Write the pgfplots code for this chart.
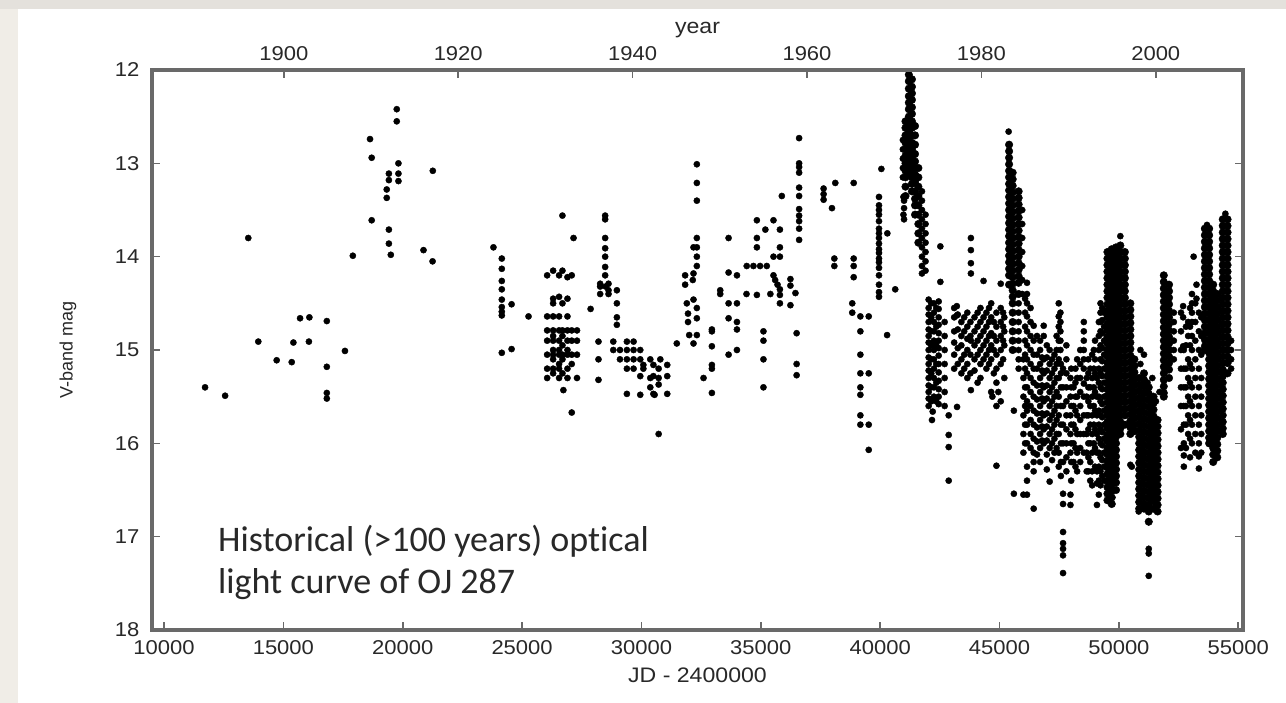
\documentclass[border=0pt]{standalone}
\usepackage{fontspec}
\usepackage{pgfplots}
\pgfplotsset{compat=1.18}
\setmainfont{Liberation Sans}
\newfontfamily\tickfont[FakeStretch=1.1]{Liberation Sans}
\newfontfamily\notefont[Ligatures=NoCommon]{Carlito}
\definecolor{bggray}{RGB}{228,225,220}
\definecolor{bgleft}{RGB}{240,237,231}
\definecolor{axgray}{RGB}{105,105,105}
\definecolor{txt}{RGB}{40,40,40}
\definecolor{notetxt}{RGB}{40,40,40}
\begin{document}
\begin{tikzpicture}
\fill[bggray] (-152pt,-73pt) rectangle (1134pt,630pt);
\fill[bgleft] (-152pt,-73pt) rectangle (-134pt,621pt);
\fill[white] (-134pt,-73pt) rectangle (1134pt,621pt);
\begin{axis}[
  at={(0pt,0pt)}, anchor=south west,
  scale only axis, width=1091pt, height=560pt,
  xmin=9497, xmax=55197, ymin=12, ymax=18, y dir=reverse,
  xtick={10000,15000,...,55000}, ytick={12,13,...,18},
  scaled x ticks=false,
  xtick pos=left, ytick pos=both,
  tick align=inside, major tick length=8pt,
  every tick/.style={axgray, line width=1.6pt},
  axis line style={axgray, line width=3.5pt},
  /pgf/number format/assume math mode=true,
  ticklabel style={font=\tickfont\fontsize{20}{20}\selectfont, text=txt},
  xticklabel style={/pgf/number format/1000 sep={}, yshift=-7pt},
  yticklabel style={xshift=-9pt},
  xlabel={JD - 2400000}, ylabel={V-band mag},
  every axis x label/.style={at={(axis description cs:0.5,-0.080)}, anchor=center, font=\tickfont\fontsize{21}{21}\selectfont, text=txt},
  every axis y label/.style={at={(axis description cs:-0.077,0.5)}, rotate=90, anchor=center, font=\fontsize{18}{18}\selectfont, text=txt},
]
% sparse observations
\addplot[only marks, mark=*, mark size=3.1pt, black] coordinates {
(11720,15.40)(12560,15.49)(13530,13.80)(13950,14.91)(14720,15.11)(15350,15.13)(15420,14.92)(15700,14.66)(16070,14.91)(16090,14.65)
(16820,14.69)(16820,15.18)(16820,15.46)(16820,15.52)(17580,15.01)(17910,13.99)(18630,12.74)(18700,12.94)(18700,13.61)(19330,13.28)
(19330,13.37)(19420,13.11)(19420,13.18)(19420,13.71)(19420,13.86)(19500,13.98)(19750,12.42)(19750,12.55)(19820,13.00)(19820,13.11)
(19820,13.19)(20870,13.93)(21250,14.05)(21260,13.08)
(23800,13.90)(24150,14.02)(24150,14.13)(24150,14.26)(24150,14.35)(24150,14.46)(24150,14.54)(24150,14.59)(24150,14.63)(24560,14.51)
(24150,15.03)(24560,14.99)(25270,14.64)
(26050,14.20)(26050,14.64)(26050,14.79)(26050,14.90)(26050,15.05)(26050,15.20)(26050,15.30)
(26300,14.15)(26300,14.45)(26300,14.50)(26300,14.64)(26300,14.79)(26300,14.85)(26300,14.90)(26300,15.00)(26300,15.05)(26300,15.10)(26300,15.20)(26300,15.25)
(26550,14.20)(26550,14.43)(26550,14.64)(26550,14.79)(26550,14.90)(26550,15.00)(26550,15.05)(26550,15.15)(26550,15.20)(26550,15.30)
(26690,13.56)(26690,14.15)(26690,14.50)(26690,14.79)(26690,14.85)(26690,14.95)(26690,15.05)(26690,15.10)(26690,15.25)(26730,15.43)
(26900,14.22)(26900,14.45)(26900,14.64)(26900,14.79)(26900,14.90)(26900,15.00)(26900,15.05)(26900,15.20)(26900,15.30)
(27080,14.20)(27080,14.79)(27080,14.90)(27080,15.05)(27080,15.15)(27080,15.67)(27155,13.80)
(27300,14.79)(27300,14.90)(27300,15.05)(27300,15.30)
(27870,14.56)(28200,14.91)(28200,15.10)(28200,15.32)(28270,14.32)(28270,14.40)(28270,14.29)(28620,14.36)(28620,14.29)(28970,14.36)
(28970,14.50)(28970,14.65)(28970,14.73)(28480,13.56)(28480,13.60)(28480,13.80)(28480,13.91)(28480,14.00)(28480,14.11)(28480,14.20)
(28500,14.32)(28620,14.40)
(28820,14.91)(28820,15.00)(29100,15.00)(29100,15.10)(29390,14.91)(29390,15.00)(29390,15.10)(29390,15.20)(29390,15.47)(29670,14.91)
(29670,15.00)(29670,15.10)(29670,15.20)(29950,15.00)(29950,15.10)(29950,15.28)(29950,15.48)(30080,15.16)(30080,15.20)(30370,15.10)
(30370,15.30)(30370,15.40)(30500,15.16)(30500,15.28)(30500,15.47)(30720,15.20)(30720,15.30)(30720,15.37)(30720,15.90)(30790,15.10)
(31080,15.16)(31080,15.28)(31080,15.47)(30550,15.48)
(31480,14.93)(32180,14.93)(31900,14.50)(31830,14.20)(31830,14.30)(31950,14.61)(31950,14.70)(32600,15.30)(32950,14.78)(32950,14.96)
(32950,15.16)(32950,15.46)(32950,14.80)(32950,15.20)(33300,14.40)(33300,14.36)(33650,13.80)(33650,14.17)(33650,14.50)(33650,14.66)
(33650,15.05)(34000,14.20)(34000,14.70)(34000,14.78)(34000,14.50)(34000,15.00)
(32320,13.01)(32320,13.21)(32320,13.40)(32320,13.80)(32180,13.90)(32320,13.90)(32320,14.00)(32320,14.10)(32180,14.18)(32150,14.25)
(32180,14.46)(32320,14.55)(32320,14.66)(32320,14.84)(32000,14.84)
(34410,14.10)(34690,14.10)(34970,14.10)(35250,14.10)(34835,13.61)(35530,13.61)(35190,13.71)(35800,13.71)(34835,13.80)(35800,13.90)
(34835,13.90)(35530,14.00)(35800,14.00)(35530,14.20)(34835,14.41)(35800,14.41)(35110,14.80)(35110,14.90)(35110,15.10)(35110,15.40)
(36240,14.24)(36240,14.31)(36450,14.39)(36240,14.52)(36500,14.82)(36500,15.15)(36500,15.27)(34400,14.40)(35400,14.40)(35600,14.25)
(35700,14.30)(35800,14.35)(35800,14.50)(35880,13.35)
(36605,12.73)(36605,13.00)(36605,13.04)(36605,13.10)(36605,13.26)(36605,13.35)(36605,13.49)(36605,13.56)(36605,13.62)(36605,13.70)(36605,13.82)
(37630,13.27)(37630,13.33)(37630,13.39)(38120,13.21)(37980,13.48)(38890,13.21)(38080,14.02)(38080,14.10)(38890,14.02)(38890,14.10)
(38890,14.22)(38830,14.50)(38830,14.60)(39170,14.64)(39520,14.64)(39170,14.80)(39170,15.05)(39170,15.25)(39170,15.40)(39170,15.48)
(39520,15.25)(39170,15.70)(39170,15.80)(39520,15.80)(39520,16.07)
(40050,13.06)(39950,13.36)(39950,13.45)(39950,13.50)(39950,13.55)(39950,13.62)(39950,13.70)(39950,13.75)(39950,13.80)(39950,13.86)
(39950,13.92)(39950,13.96)(39950,14.02)(39950,14.06)(39950,14.12)(39950,14.20)(39950,14.30)(39950,14.38)(39950,14.43)(40300,13.75)
(40630,14.35)(40290,14.84)(40975,13.36)(40975,13.55)
(41750,13.30)(41750,13.40)(41750,13.50)(41750,13.60)(41750,13.70)(41750,13.80)(41750,13.90)(41750,14.00)(41750,14.10)(41750,14.18)
(41900,13.55)(41900,13.65)(41900,13.75)(41900,13.85)(41900,13.95)(41900,14.05)(41900,14.15)
(41000,13.40)(41000,13.48)(41000,13.60)(40950,12.75)(40950,12.85)(40950,12.95)(40950,13.05)(40950,13.15)
(42520,13.89)(42520,14.27)
(42030,14.46)(42030,14.55)(42030,14.62)(42030,14.70)(42030,14.78)(42030,14.85)(42030,14.92)(42030,15.00)(42030,15.08)(42030,15.15)
(42030,15.22)(42030,15.30)(42030,15.38)(42030,15.45)(42030,15.52)(42030,15.60)
(42140,14.50)(42140,14.65)(42140,14.80)(42140,14.95)(42140,15.10)(42140,15.25)(42140,15.40)(42140,15.55)
(42250,14.50)(42250,14.60)(42250,14.70)(42250,14.80)(42250,14.90)(42250,15.00)(42250,15.10)(42250,15.20)(42250,15.30)(42250,15.40)(42250,15.50)
(42350,14.55)(42350,14.75)(42350,14.95)(42350,15.15)(42350,15.35)(42350,15.55)
(42450,14.48)(42450,14.56)(42450,14.65)(42450,14.73)(42450,14.82)(42450,14.90)(42450,14.98)(42450,15.06)(42450,15.15)(42450,15.24)
(42450,15.33)(42450,15.42)(42450,15.50)(42450,15.58)
(42700,14.70)(42700,14.85)(42700,15.00)(42700,15.15)(42700,15.30)(42700,15.45)(42700,15.60)
(42170,15.75)(42200,15.66)(42870,15.70)(42870,15.91)(42870,16.04)(42870,16.40)(43220,15.61)(43210,14.53)(43210,14.63)
(43100,14.55)(43100,14.65)(43100,14.80)(43100,14.92)(43100,15.05)(43100,15.20)
(43250,14.62)(43250,14.78)(43250,14.98)(43250,15.15)
(43400,14.70)(43400,14.85)(43400,14.95)(43400,15.10)(43400,15.25)
(43520,14.65)(43520,14.80)(43520,15.05)(43520,15.20)
(43650,14.60)(43650,14.75)(43650,14.88)(43650,15.00)(43650,15.15)(43650,15.30)
(43780,14.70)(43780,14.85)(43780,15.05)(43780,15.25)
(43800,13.80)(43800,13.93)(43800,14.07)(43800,14.18)(43800,14.90)(43800,15.43)
(43950,14.65)(43950,14.80)(43950,14.95)(43950,15.10)(43950,15.22)
(44080,14.60)(44080,14.75)(44080,14.90)(44080,15.05)(44080,15.35)
(44200,14.55)(44200,14.70)(44200,14.85)(44200,15.00)(44200,15.15)(44200,15.30)(44330,14.26)
(44330,14.65)(44330,14.80)(44330,14.95)(44330,15.10)
(44450,14.60)(44450,14.75)(44450,14.90)(44450,15.05)(44450,15.20)
(44560,14.55)(44560,14.70)(44560,14.85)(44560,15.00)(44560,15.15)
(44650,14.50)(44650,14.65)(44650,14.82)(44650,14.95)(44650,15.10)(44650,15.45)
(44760,14.70)(44760,14.85)(44760,15.00)(44760,15.25)
(44870,14.60)(44870,14.75)(44870,14.90)(44870,15.05)(44870,15.20)(44870,15.35)(44870,15.60)(44870,16.24)
(45050,14.29)(45050,14.55)(45050,14.70)(45050,14.85)(45050,15.00)(45050,15.15)(45050,15.55)
(45150,14.60)(45150,14.75)(45150,14.90)(45150,15.10)
(45200,14.65)(45200,14.80)(45200,14.95)(45200,15.30)(44700,15.50)(44950,15.45)
(45380,12.66)
(45800,14.50)(45800,14.60)(45800,14.70)(45800,14.80)(45800,14.90)(45800,15.00)(45800,15.10)(45800,15.20)
(45950,13.50)(45950,13.65)(45950,13.80)(45950,13.95)(45950,14.10)(45950,14.25)(45950,14.40)
(46070,14.45)(46070,14.60)(46070,14.75)(46070,14.90)(46070,15.05)(46070,15.20)(46070,15.40)(46070,15.60)(46070,15.80)(46070,16.00)
(46150,14.28)(46150,14.40)(46150,14.50)(46150,14.64)(46150,14.80)(46150,14.95)(46150,15.10)(46150,15.25)(46150,15.40)(46150,15.55)
(46150,15.65)(46150,15.80)(46150,16.00)(46150,16.25)(46150,16.40)(46150,16.55)
(46000,15.10)(46000,15.30)(46000,15.50)(46000,15.70)(46000,15.90)(46000,16.10)(46000,16.55)(45600,16.54)(45600,15.65)
(46300,14.55)(46300,14.70)(46300,14.85)(46300,15.00)(46300,15.15)(46300,15.30)(46300,15.45)(46300,15.60)(46300,15.75)(46300,15.90)(46300,16.05)
(46430,14.74)(46430,14.90)(46430,15.05)(46430,15.20)(46430,15.35)(46430,15.50)(46430,15.65)(46430,15.80)(46430,15.95)(46430,16.10)
(46430,16.20)(46430,16.30)(46430,16.70)
(46570,14.85)(46570,15.05)(46570,15.20)(46570,15.38)(46570,15.53)(46570,15.68)(46570,15.83)(46570,15.98)(46570,16.12)
(46700,14.90)(46700,15.00)(46700,15.15)(46700,15.30)(46700,15.45)(46700,15.60)(46700,15.75)(46700,15.90)(46700,16.05)(46700,16.20)
(46780,15.08)(46780,15.22)(46780,15.38)(46780,15.52)(46780,15.68)(46780,15.82)(46780,15.97)
(46850,14.74)(46850,14.85)(46850,15.10)(46850,15.25)(46850,15.40)(46850,15.55)(46850,15.70)(46850,15.85)(46850,16.00)
(46980,14.95)(46980,15.08)(46980,15.22)(46980,15.38)(46980,15.52)(46980,15.68)(46980,15.82)(46980,15.97)(46980,16.12)(46980,16.28)
(47100,15.00)(47100,15.15)(47100,15.30)(47100,15.45)(47100,15.60)(47100,15.75)(47100,15.90)(47100,16.05)(47100,16.41)
(47200,15.10)(47200,15.25)(47200,15.40)(47200,15.55)(47200,15.70)(47200,15.85)(47200,16.00)(47200,16.18)
(47300,15.05)(47300,15.20)(47300,15.35)(47300,15.50)(47300,15.65)(47300,15.80)(47300,15.95)(47300,16.10)
(47390,14.85)(47390,15.00)(47390,15.15)(47390,15.30)(47390,15.45)(47390,15.60)(47390,15.75)(47390,15.90)(47390,16.05)
(47480,14.50)(47480,14.64)(47480,14.75)(47480,14.90)(47480,15.10)(47480,15.30)(47480,15.50)(47480,15.70)(47480,15.90)(47480,16.10)(47480,16.25)
(47570,15.15)(47570,15.25)(47570,15.40)(47570,15.60)(47570,15.80)(47570,16.00)(47570,16.20)(47570,16.35)
(47660,15.20)(47660,15.40)(47660,15.60)(47660,15.80)(47660,16.00)(47660,16.20)(47660,16.54)(47660,16.65)(47660,16.95)(47660,17.07)
(47660,17.13)(47660,17.20)(47660,17.39)
(47550,14.60)(47550,14.70)(47550,14.80)(47550,14.90)(47550,15.00)
(47800,14.95)(47800,15.10)(47800,15.25)(47800,15.40)(47800,15.55)(47800,15.70)(47800,15.85)(47800,16.00)(47800,16.15)(47800,16.30)
(47970,15.30)(47970,15.50)(47970,15.70)(47970,15.90)(47970,16.10)(47970,16.55)(47970,16.66)
(48000,15.20)(48000,15.40)(48000,15.60)(48000,15.80)(48000,16.00)(48000,16.20)(48000,16.40)
(48100,15.40)(48100,15.60)(48100,15.80)(48100,16.00)(48100,16.20)
(48180,15.20)(48180,15.35)(48180,15.50)(48180,15.65)(48180,15.85)(48180,16.05)(48180,16.25)
(48250,15.10)(48250,15.30)(48250,15.50)(48250,15.70)(48250,15.90)(48250,16.10)(48250,16.30)
(48380,15.00)(48380,15.15)(48380,15.30)(48380,15.45)(48380,15.60)(48380,15.75)(48380,15.90)(48380,16.05)(48380,16.20)
(48530,14.70)(48530,14.80)(48530,14.90)(48530,15.00)(48530,15.10)(48530,15.20)(48530,15.36)(48530,15.50)(48530,15.70)(48530,15.90)(48530,16.10)
(48650,15.30)(48650,15.50)(48650,15.70)(48650,15.90)(48650,16.10)(48650,16.30)
(48720,15.10)(48720,15.25)(48720,15.40)(48720,15.55)(48720,15.70)(48720,15.85)(48720,16.00)(48720,16.15)(48720,16.30)
(48800,15.20)(48800,15.40)(48800,15.60)(48800,15.80)(48800,16.00)(48800,16.20)(48800,16.40)
(48880,15.05)(48880,15.30)(48880,15.50)(48880,15.70)(48880,15.90)(48880,16.10)(48880,16.30)(48880,16.45)
(48950,15.00)(48950,15.20)(48950,15.40)(48950,15.60)(48950,15.80)(48950,16.00)
(49000,14.90)(49000,15.10)(49000,15.25)(49000,15.45)(49000,15.65)(49000,15.85)(49000,16.05)(49000,16.25)
(49080,15.30)(49080,15.50)(49080,15.70)(49080,15.90)(49080,16.10)(49080,16.30)(49080,16.43)(49080,16.66)
(49160,14.70)(49160,14.85)(49160,15.00)(49160,15.20)(49160,15.35)(49160,15.50)(49160,15.65)(49160,15.80)(49160,15.95)(49160,16.10)
(49160,16.25)(49160,16.40)(49160,16.55)
(49230,14.50)(49230,14.60)(49230,14.70)(49230,14.80)(49230,14.95)(49230,15.10)(49230,15.25)(49230,15.40)(49230,15.55)(49230,15.70)
(49230,15.85)(49230,16.00)(49230,16.15)(49230,16.30)(49230,16.45)
(49300,14.55)(49300,14.68)(49300,14.82)(49300,14.98)(49300,15.12)(49300,15.28)(49300,15.42)(49300,15.58)(49300,15.72)(49300,15.88)
(49300,16.02)(49300,16.18)(49300,16.35)
(49380,14.60)(49380,14.75)(49380,14.90)(49380,15.05)(49380,15.20)(49380,15.35)(49380,15.50)(49380,15.65)(49380,15.80)(49380,15.95)
(49380,16.10)(49380,16.25)(49380,16.40)
(50060,13.78)(50480,16.23)(50540,16.25)
(50900,15.00)(50900,15.15)(51200,15.35)(51200,15.45)(51400,15.30)(51700,15.45)(51550,15.55)(51050,15.05)
(51250,17.13)(51250,17.18)(51250,17.42)(50830,16.73)
(52300,14.60)(52300,14.70)(52300,14.80)(52300,14.90)(52300,15.00)(52300,15.10)
(52600,14.60)(52600,14.80)(52600,15.00)(52600,15.20)(52600,15.40)(52600,15.60)(52600,15.85)(52600,16.05)
(52690,14.53)(52690,14.65)(52690,14.96)
(52720,15.00)(52720,15.20)(52720,15.40)(52720,15.60)(52720,15.80)(52720,16.00)(52720,16.13)(52720,16.25)
(52810,14.75)(52810,14.95)(52810,15.20)(52810,15.40)(52810,15.60)(52810,15.80)(52810,16.05)
(52900,14.70)(52900,14.85)(52900,15.10)(52900,15.30)(52900,15.50)(52900,15.70)(52900,15.90)
(52980,14.55)(52980,14.75)(52980,14.95)(52980,15.15)(52980,15.35)(52980,15.55)(52980,15.75)(52980,15.95)(52980,16.15)
(53060,14.40)(53060,14.50)(53060,14.60)(53060,14.70)(53060,14.85)(53060,15.00)(53060,15.20)(53060,15.40)(53060,15.60)(53060,15.80)(53060,16.00)
(53130,14.00)
(53200,14.50)(53200,14.70)(53200,14.90)(53200,15.10)(53200,15.30)(53200,15.50)(53200,15.70)(53200,15.90)(53200,16.10)
(53350,14.60)(53350,14.80)(53350,15.00)(53350,15.20)(53350,15.40)(53350,15.60)(53350,15.80)(53350,16.00)(53350,16.14)(53350,16.27)
(53450,14.65)(53450,14.85)(53450,15.05)(53450,15.30)(53450,15.50)(53450,15.70)(53450,15.90)(53450,16.10)
(53250,14.30)(53250,14.45)(53690,13.66)(54460,13.54)
(54700,14.90)(54700,15.00)(54700,15.10)(54700,15.20)
};
% densely sampled campaigns
\addplot[only marks, mark=*, mark size=3.8pt, black] coordinates {
(41200,12.05)(41200,12.12)(41200,12.20)(41200,12.28)(41200,12.35)(41200,12.42)(41200,12.50)(41200,12.58)(41200,12.65)(41200,12.72)
(41200,12.80)(41200,12.88)(41200,12.95)(41200,13.02)(41200,13.10)
(41330,12.10)(41330,12.18)(41330,12.25)(41330,12.32)(41330,12.40)(41330,12.47)(41330,12.55)(41330,12.62)(41330,12.70)(41330,12.78)
(41330,12.85)(41330,12.92)(41330,13.00)(41330,13.08)(41330,13.15)(41330,13.22)(41330,13.30)
(41060,12.55)(41060,12.62)(41060,12.70)(41060,12.78)(41060,12.85)(41060,12.92)(41060,13.00)(41060,13.08)(41060,13.15)(41060,13.25)(41060,13.35)
(41460,12.60)(41460,12.70)(41460,12.80)(41460,12.90)(41460,12.98)(41460,13.05)(41460,13.12)(41460,13.20)(41460,13.30)(41460,13.38)
(41460,13.45)(41460,13.55)
(41600,13.05)(41600,13.15)(41600,13.25)(41600,13.35)(41600,13.45)(41600,13.55)(41600,13.65)(41600,13.75)(41600,13.85)
(45400,12.80)(45400,12.87)(45400,12.94)(45400,13.01)(45400,13.08)(45400,13.15)(45400,13.22)(45400,13.29)(45400,13.36)(45400,13.43)
(45400,13.50)(45400,13.57)(45400,13.64)(45400,13.71)(45400,13.78)(45400,13.85)(45400,13.92)(45400,13.99)(45400,14.06)(45400,14.13)
(45400,14.20)(45400,14.30)
(45550,13.10)(45550,13.17)(45550,13.24)(45550,13.31)(45550,13.38)(45550,13.45)(45550,13.52)(45550,13.59)(45550,13.66)(45550,13.73)
(45550,13.80)(45550,13.87)(45550,13.94)(45550,14.01)(45550,14.08)(45550,14.15)(45550,14.22)(45550,14.29)(45550,14.36)(45550,14.43)
(45550,14.50)(45550,14.60)(45550,14.70)(45550,14.80)(45550,14.90)(45550,15.00)
(45800,13.30)(45800,13.37)(45800,13.44)(45800,13.51)(45800,13.58)(45800,13.65)(45800,13.72)(45800,13.79)(45800,13.86)(45800,13.93)
(45800,14.00)(45800,14.07)(45800,14.14)(45800,14.21)(45800,14.28)(45800,14.40)
(49520,13.95)(49520,14.02)(49520,14.09)(49520,14.16)(49520,14.23)(49520,14.30)(49520,14.37)(49520,14.44)(49520,14.51)(49520,14.58)
(49520,14.65)(49520,14.72)(49520,14.79)(49520,14.86)(49520,14.93)(49520,15.00)(49520,15.07)(49520,15.14)(49520,15.21)(49520,15.28)
(49520,15.35)(49520,15.42)(49520,15.49)(49520,15.56)(49520,15.63)(49520,15.70)(49520,15.77)(49520,15.84)(49520,15.91)(49520,15.98)
(49520,16.05)(49520,16.12)(49520,16.19)(49520,16.26)(49520,16.33)(49520,16.40)(49520,16.47)(49520,16.54)(49520,16.61)
(49700,13.92)(49700,13.99)(49700,14.06)(49700,14.13)(49700,14.20)(49700,14.27)(49700,14.34)(49700,14.41)(49700,14.48)(49700,14.55)
(49700,14.62)(49700,14.69)(49700,14.76)(49700,14.83)(49700,14.90)(49700,14.97)(49700,15.04)(49700,15.11)(49700,15.18)(49700,15.25)
(49700,15.32)(49700,15.39)(49700,15.46)(49700,15.53)(49700,15.60)(49700,15.67)(49700,15.74)(49700,15.81)(49700,15.88)(49700,15.95)
(49700,16.02)(49700,16.09)(49700,16.16)(49700,16.23)(49700,16.30)(49700,16.37)(49700,16.44)(49700,16.51)(49700,16.58)(49700,16.65)
(49880,13.90)(49880,13.97)(49880,14.04)(49880,14.11)(49880,14.18)(49880,14.25)(49880,14.32)(49880,14.39)(49880,14.46)(49880,14.53)
(49880,14.60)(49880,14.67)(49880,14.74)(49880,14.81)(49880,14.88)(49880,14.95)(49880,15.02)(49880,15.09)(49880,15.16)(49880,15.23)
(49880,15.30)(49880,15.37)(49880,15.44)(49880,15.51)(49880,15.58)(49880,15.65)(49880,15.72)(49880,15.79)(49880,15.86)(49880,15.93)
(49880,16.00)(49880,16.07)(49880,16.14)(49880,16.21)(49880,16.28)(49880,16.35)(49880,16.42)(49880,16.50)
(50060,13.88)(50060,13.95)(50060,14.02)(50060,14.09)(50060,14.16)(50060,14.23)(50060,14.30)(50060,14.37)(50060,14.44)(50060,14.51)
(50060,14.58)(50060,14.65)(50060,14.72)(50060,14.79)(50060,14.86)(50060,14.93)(50060,15.00)(50060,15.07)(50060,15.14)(50060,15.21)
(50060,15.28)(50060,15.35)(50060,15.42)(50060,15.49)(50060,15.56)(50060,15.63)(50060,15.70)(50060,15.77)(50060,15.84)(50060,15.90)
(50250,13.95)(50250,14.02)(50250,14.09)(50250,14.16)(50250,14.23)(50250,14.30)(50250,14.37)(50250,14.44)(50250,14.51)(50250,14.58)
(50250,14.65)(50250,14.72)(50250,14.79)(50250,14.86)(50250,14.93)(50250,15.00)(50250,15.07)(50250,15.14)(50250,15.21)(50250,15.28)
(50250,15.35)(50250,15.42)(50250,15.49)(50250,15.56)(50250,15.63)(50250,15.70)(50250,15.80)
(50480,14.50)(50480,14.57)(50480,14.64)(50480,14.71)(50480,14.78)(50480,14.85)(50480,14.92)(50480,14.99)(50480,15.06)(50480,15.13)
(50480,15.20)(50480,15.27)(50480,15.34)(50480,15.41)(50480,15.48)(50480,15.55)(50480,15.62)(50480,15.69)(50480,15.76)(50480,15.83)(50480,15.90)
(50650,15.10)(50650,15.17)(50650,15.24)(50650,15.31)(50650,15.38)(50650,15.45)(50650,15.52)(50650,15.59)(50650,15.66)(50650,15.73)(50650,15.80)(50650,15.87)
(50850,15.30)(50850,15.37)(50850,15.44)(50850,15.51)(50850,15.58)(50850,15.65)(50850,15.72)(50850,15.79)(50850,15.86)(50850,15.93)
(50850,16.00)(50850,16.07)(50850,16.14)(50850,16.21)(50850,16.28)(50850,16.35)(50850,16.42)(50850,16.49)(50850,16.56)(50850,16.63)(50850,16.70)
(51050,15.25)(51050,15.32)(51050,15.39)(51050,15.46)(51050,15.53)(51050,15.60)(51050,15.67)(51050,15.74)(51050,15.81)(51050,15.88)
(51050,15.95)(51050,16.02)(51050,16.09)(51050,16.16)(51050,16.23)(51050,16.30)(51050,16.37)(51050,16.44)(51050,16.51)(51050,16.58)(51050,16.65)(51050,16.70)
(51250,15.40)(51250,15.47)(51250,15.54)(51250,15.61)(51250,15.68)(51250,15.75)(51250,15.82)(51250,15.89)(51250,15.96)(51250,16.03)
(51250,16.10)(51250,16.17)(51250,16.24)(51250,16.31)(51250,16.38)(51250,16.45)(51250,16.52)(51250,16.59)(51250,16.66)(51250,16.73)(51250,16.84)
(51450,15.50)(51450,15.57)(51450,15.64)(51450,15.71)(51450,15.78)(51450,15.85)(51450,15.92)(51450,15.99)(51450,16.06)(51450,16.13)
(51450,16.20)(51450,16.27)(51450,16.34)(51450,16.41)(51450,16.48)(51450,16.55)(51450,16.62)(51450,16.70)
(51620,15.75)(51620,15.82)(51620,15.89)(51620,15.96)(51620,16.03)(51620,16.10)(51620,16.17)(51620,16.24)(51620,16.31)(51620,16.38)
(51620,16.45)(51620,16.52)(51620,16.59)(51620,16.66)(51620,16.73)
(51880,14.20)(51880,14.27)(51880,14.34)(51880,14.41)(51880,14.48)(51880,14.55)(51880,14.62)(51880,14.69)(51880,14.76)(51880,14.83)
(51880,14.90)(51880,14.97)(51880,15.04)(51880,15.11)(51880,15.18)(51880,15.25)(51880,15.32)(51880,15.39)(51880,15.46)(51880,15.50)
(52100,14.30)(52100,14.37)(52100,14.44)(52100,14.51)(52100,14.58)(52100,14.65)(52100,14.72)(52100,14.79)(52100,14.86)(52100,14.93)
(52100,15.00)(52100,15.07)(52100,15.14)(52100,15.21)(52100,15.30)
(53600,13.70)(53600,13.77)(53600,13.84)(53600,13.91)(53600,13.98)(53600,14.05)(53600,14.12)(53600,14.19)(53600,14.26)(53600,14.33)
(53600,14.40)(53600,14.47)(53600,14.54)(53600,14.61)(53600,14.68)(53600,14.75)(53600,14.82)(53600,14.89)(53600,14.96)(53600,15.00)
(53780,13.70)(53780,13.77)(53780,13.84)(53780,13.91)(53780,13.98)(53780,14.05)(53780,14.12)(53780,14.19)(53780,14.26)(53780,14.33)
(53780,14.40)(53780,14.47)(53780,14.54)(53780,14.61)(53780,14.68)(53780,14.75)(53780,14.82)(53780,14.89)(53780,14.96)(53780,15.03)
(53780,15.10)(53780,15.17)(53780,15.24)(53780,15.31)(53780,15.38)(53780,15.45)(53780,15.52)(53780,15.59)(53780,15.66)(53780,15.73)
(53780,15.80)(53780,15.87)(53780,15.94)(53780,16.00)
(53950,14.30)(53950,14.37)(53950,14.44)(53950,14.51)(53950,14.58)(53950,14.65)(53950,14.72)(53950,14.79)(53950,14.86)(53950,14.93)
(53950,15.00)(53950,15.07)(53950,15.14)(53950,15.21)(53950,15.28)(53950,15.35)(53950,15.42)(53950,15.49)(53950,15.56)(53950,15.63)
(53950,15.70)(53950,15.77)(53950,15.84)(53950,15.91)(53950,15.98)(53950,16.05)(53950,16.12)(53950,16.20)
(54120,14.40)(54120,14.47)(54120,14.54)(54120,14.61)(54120,14.68)(54120,14.75)(54120,14.82)(54120,14.89)(54120,14.96)(54120,15.03)
(54120,15.10)(54120,15.17)(54120,15.24)(54120,15.31)(54120,15.38)(54120,15.45)(54120,15.52)(54120,15.59)(54120,15.66)(54120,15.73)
(54120,15.80)(54120,15.87)(54120,15.94)(54120,16.01)(54120,16.08)(54120,16.15)
(54350,13.60)(54350,13.67)(54350,13.74)(54350,13.81)(54350,13.88)(54350,13.95)(54350,14.02)(54350,14.09)(54350,14.16)(54350,14.23)
(54350,14.30)(54350,14.37)(54350,14.44)(54350,14.51)(54350,14.58)(54350,14.65)(54350,14.72)(54350,14.79)(54350,14.86)(54350,14.93)
(54350,15.00)(54350,15.07)(54350,15.14)(54350,15.21)(54350,15.28)(54350,15.35)(54350,15.42)(54350,15.49)(54350,15.56)(54350,15.63)
(54350,15.70)(54350,15.77)(54350,15.84)(54350,15.90)
(54550,13.60)(54550,13.67)(54550,13.74)(54550,13.81)(54550,13.88)(54550,13.95)(54550,14.02)(54550,14.09)(54550,14.16)(54550,14.23)
(54550,14.30)(54550,14.37)(54550,14.44)(54550,14.51)(54550,14.58)(54550,14.65)(54550,14.72)(54550,14.79)(54550,14.86)(54550,14.93)
(54550,15.00)(54550,15.07)(54550,15.14)(54550,15.25)
};
\end{axis}
\begin{axis}[
  at={(0pt,0pt)}, anchor=south west,
  scale only axis, width=1091pt, height=560pt,
  xmin=9497, xmax=55197, ymin=12, ymax=18,
  scaled x ticks=false,
  axis x line*=top, axis y line=none,
  xtick={15020,22325,29630,36934,44239,51544},
  xticklabels={1900,1920,1940,1960,1980,2000},
  tick align=inside, major tick length=8pt,
  every tick/.style={axgray, line width=1.6pt},
  axis line style={axgray, line width=3.5pt},
  ticklabel style={font=\tickfont\fontsize{20}{20}\selectfont, text=txt},
  xticklabel style={yshift=6pt},
  xlabel={year},
  every axis x label/.style={at={(axis description cs:0.5,1.071)}, anchor=center, font=\tickfont\fontsize{21}{21}\selectfont, text=txt},
]
\end{axis}
\node[anchor=base west, inner sep=0pt, text=notetxt, font=\notefont\fontsize{36}{36}\selectfont] at (66pt,78pt) {Historical (>100 years) optical};
\node[anchor=base west, inner sep=0pt, text=notetxt, font=\notefont\fontsize{36}{36}\selectfont] at (66pt,36pt) {light curve of OJ 287};
\pgfresetboundingbox
\useasboundingbox (-152pt,-73pt) rectangle (1134pt,630pt);
\end{tikzpicture}
\end{document}
